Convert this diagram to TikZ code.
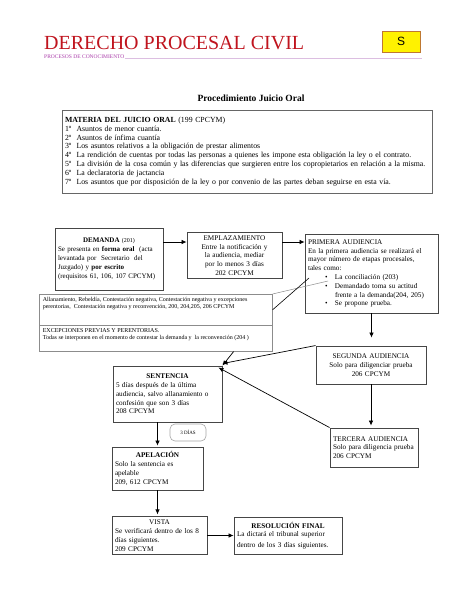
\documentclass[tikz,border=0pt]{standalone}
\usepackage{fontspec}
\setmainfont{Liberation Serif}
\newfontfamily\arialfont{Liberation Sans}
\usetikzlibrary{arrows.meta,calc,positioning}

\definecolor{rojotit}{RGB}{192,20,30}
\definecolor{moradotit}{RGB}{170,60,170}
\definecolor{lineatit}{RGB}{220,190,225}
\definecolor{bordecaja}{RGB}{70,70,70}
\definecolor{bordeS}{RGB}{190,120,50}

\tikzset{
  caja/.style={draw=bordecaja, line width=0.9pt, rectangle, inner sep=3pt, font=\fontsize{7.2}{8.8}\selectfont},
  nota/.style={draw=black!45, line width=0.6pt, rectangle, inner sep=3pt, anchor=north west, font=\fontsize{6}{7}\selectfont},
  flecha/.style={-{Latex[length=5pt,width=4.5pt]}, line width=0.7pt},
}
\newcommand{\titcaja}[1]{\makebox[\linewidth]{#1}\\}

\begin{document}
\begin{tikzpicture}[x=1pt,y=-1pt]
	\useasboundingbox[fill=white] (0,0) rectangle (474,613);

	% encabezado
	\node[anchor=base west, inner sep=0, text=rojotit, font=\fontsize{20}{20}\selectfont] (titulo) at (44,49) {DERECHO PROCESAL CIVIL};
	\node[draw=bordeS, fill=yellow, line width=1pt, minimum width=38pt, minimum height=21pt, font=\arialfont\fontsize{12}{12}\selectfont] (letra) at (401,41.5) {S};
	\node[anchor=base west, inner sep=0, text=moradotit, font=\fontsize{5.5}{6}\selectfont] (subtit) at (44,58) {PROCESOS DE CONOCIMIENTO};
	\coordinate (finlinea) at (422,58);
	\draw[lineatit, line width=1pt] (subtit.base east) -- (finlinea);

	\node[font=\bfseries\fontsize{9.5}{10}\selectfont] (proc) at (251,98) {Procedimiento Juicio Oral};

	% materia
	\node[caja, draw=black!60, line width=0.7pt, font=\fontsize{7.8}{8.9}\selectfont, minimum width=370pt, minimum height=83pt, text width=364pt, align=left] (materia) at (247,151.5) {%
		\textbf{MATERIA DEL JUICIO ORAL} (199 CPCYM)\\
		1º\ \ Asuntos de menor cuantía.\\
		2º\ \ Asuntos de ínfima cuantía\\
		3º\ \ Los asuntos relativos a la obligación de prestar alimentos\\
		4º\ \ La rendición de cuentas por todas las personas a quienes les impone esta obligación la ley o el contrato.\\
		5º\ \ La división de la cosa común y las diferencias que surgieren entre los copropietarios en relación a la misma.\\
		6º\ \ La declaratoria de jactancia\\
		7º\ \ Los asuntos que por disposición de la ley o por convenio de las partes deban seguirse en esta vía.};

	% primera fila
	\node[caja, font=\fontsize{7}{8.8}\selectfont, minimum width=108pt, minimum height=62pt, text width=102pt, align=left] (demanda) at (109,259) {%
		\titcaja{\textbf{DEMANDA} {\fontsize{6}{7}\selectfont(201)}}
		Se presenta en \textbf{forma oral} \ (acta\\
		levantada por \ Secretario \ del\\
		Juzgado) y \textbf{por escrito}\\
		(requisitos 61, 106, 107 CPCYM)};
	\node[caja, minimum width=95pt, minimum height=43pt, text width=89pt, align=center] (empl) at (234.5,255.5) {%
		EMPLAZAMIENTO\\Entre la notificación y\\la audiencia, mediar\\por lo menos 3 días\\202 CPCYM};
	\node[caja, minimum width=133pt, minimum height=79pt, text width=127pt, align=left] (primera) at (371.5,273.5) {%
		PRIMERA AUDIENCIA\\
		En la primera audiencia se realizará el\\
		mayor número de etapas procesales,\\
		tales como:\\
		\hspace*{17pt}\makebox[10pt][l]{\textbullet}La conciliación (203)\\
		\hspace*{17pt}\makebox[10pt][l]{\textbullet}Demandado toma su actitud\\
		\hspace*{27pt}frente a la demanda(204, 205)\\
		\hspace*{17pt}\makebox[10pt][l]{\textbullet}Se propone prueba.};
	\coordinate (fila) at (0,242);
	\draw[flecha] (demanda.east |- fila) -- (empl.west |- fila);
	\draw[flecha] (empl.east |- fila) -- (primera.west |- fila);

	% nota de actitudes
	\node[nota, minimum width=233pt, minimum height=31pt] (notaA) at (39,294) {\parbox[t][24pt][t]{226pt}{%
		Allanamiento, Rebeldía, Contestación negativa, Contestación negativa y excepciones\\
		perentorias, \ Contestación negativa y reconvención, 200, 204,205, 206 CPCYM}};
	\node[nota, minimum width=233pt, minimum height=26pt] (notaB) at (39,325) {\parbox[t][19pt][t]{226pt}{%
		EXCEPCIONES PREVIAS Y PERENTORIAS.\\
		Todas se interponen en el momento de contestar la demanda y \ la reconvención (204 )}};
	\coordinate (punta) at (328,281);
	\coordinate (actitud) at (309,278);
	\draw[black!45, line width=0.5pt] (notaA.north east) -- (punta);
	\draw[line width=0.6pt] (notaA.east) -- (actitud);

	% audiencias siguientes
	\node[caja, minimum width=110pt, minimum height=38pt, text width=104pt, align=center] (segunda) at (371,365) {%
		SEGUNDA AUDIENCIA\\Solo para diligenciar prueba\\206 CPCYM};
	\node[caja, minimum width=88pt, minimum height=39pt, text width=82pt, align=left] (tercera) at (374,447.5) {%
		TERCERA AUDIENCIA\\Solo para diligencia prueba\\206 CPCYM};
	\draw[flecha, shorten >=8pt] (primera.south) -- (primera.south |- segunda.north);
	\draw[flecha, shorten >=2pt] (segunda.south) -- (segunda.south |- tercera.north);

	% sentencia y recursos
	\node[caja, minimum width=109pt, minimum height=56pt, text width=103pt, align=left] (sentencia) at (167.5,394) {%
		\titcaja{\textbf{SENTENCIA}}
		5 días después de la última\\
		audiencia, salvo allanamiento o\\
		confesión que son 3 días\\
		208 CPCYM};
	\draw[flecha] ($(notaB.south east)+(-39,0)$) -- (sentencia.north east);
	\draw[flecha] (segunda.north west) -- ([yshift=2pt]sentencia.north east);
	\draw[flecha] (tercera.north west) -- ([xshift=-4pt,yshift=-2pt]sentencia.north east);

	\node[draw=black!35, line width=0.6pt, rounded corners=5pt, minimum width=36pt, minimum height=17pt, font=\fontsize{5}{6}\selectfont] (tresdias) at (188,432.5) {3 DÍAS};

	\node[caja, minimum width=91pt, minimum height=43pt, text width=85pt, align=left] (apelacion) at (157.5,468.5) {%
		\titcaja{\textbf{APELACIÓN}}
		Solo la sentencia es\\
		apelable\\
		209, 612 CPCYM};
	\draw[flecha, shorten >=1pt] (apelacion.north |- sentencia.south) -- (apelacion.north);

	\node[caja, minimum width=95pt, minimum height=37pt, text width=89pt, align=left] (vista) at (159.5,535.5) {%
		\titcaja{VISTA}
		Se verificará dentro de los 8\\
		días siguientes.\\
		209 CPCYM};
	\node[caja, minimum width=108pt, minimum height=37pt, text width=102pt, align=left] (resol) at (288,535.5) {%
		\titcaja{\textbf{RESOLUCIÓN FINAL}}
		La dictará el tribunal superior\\[2pt]
		dentro de los 3 días siguientes.};
	\draw[flecha, shorten >=2pt] (apelacion.south) -- (apelacion.south |- vista.north);
	\draw[flecha] (vista.east) -- (resol.west);
\end{tikzpicture}
\end{document}
